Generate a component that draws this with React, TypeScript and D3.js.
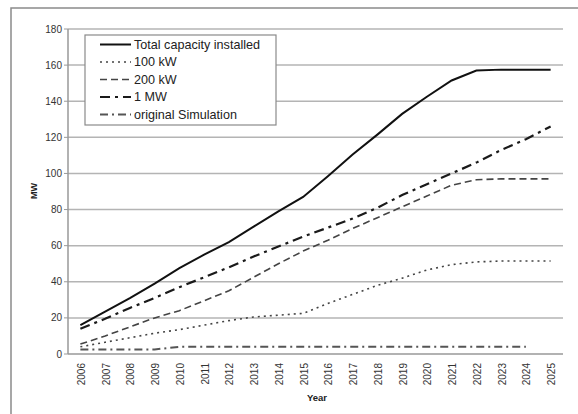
import React from "react";
import * as d3 from "d3";

const years = ["2006", "2007", "2008", "2009", "2010", "2011", "2012", "2013", "2014", "2015",
  "2016", "2017", "2018", "2019", "2020", "2021", "2022", "2023", "2024", "2025"];

const totalCapacity = [16, 23.5, 31, 39, 47.5, 55, 62, 70.5, 79, 87, 98.5, 110.5, 121.5, 133, 142.5, 151.5, 157, 157.5, 157.5, 157.5];
const kw100 = [4, 6.5, 9, 11.5, 13.5, 16, 18.5, 20.5, 21.5, 22.5, 28, 33, 38, 42, 46.5, 49.5, 51, 51.5, 51.5, 51.5];
const kw200 = [5.5, 10, 15, 20, 24, 29.5, 35, 42.5, 50, 57, 63, 69.5, 75.5, 81.5, 87.5, 93.5, 96.5, 97, 97, 97];
const mw1 = [14, 19.5, 25.5, 31, 37, 42.5, 48, 54, 59.5, 65, 70, 75, 81, 88, 94, 100, 106, 113, 119, 126];
const originalSim = [2.5, 2.5, 2.5, 2.5, 4, 4, 4, 4, 4, 4, 4, 4, 4, 4, 4, 4, 4, 4, 4];

const yTicks = [0, 20, 40, 60, 80, 100, 120, 140, 160, 180];

const series = [
  { name: "Total capacity installed", values: totalCapacity, color: "#111", width: 2, dash: "" },
  { name: "100 kW", values: kw100, color: "#444", width: 1.6, dash: "2,4" },
  { name: "200 kW", values: kw200, color: "#444", width: 1.6, dash: "7,4" },
  { name: "1 MW", values: mw1, color: "#1a1a1a", width: 2.2, dash: "10,5,3,5" },
  { name: "original Simulation", values: originalSim, color: "#555", width: 2, dash: "8,4,2,4" },
];

const font = "'Liberation Sans', Arial, sans-serif";

export default function App() {
  const width = 578;
  const height = 414;
  const left = 68, right = 563, top = 29, bottom = 354;

  const x = d3.scalePoint<string>().domain(years).range([left, right]).padding(0.5);
  const y = d3.scaleLinear().domain([0, 180]).range([bottom, top]);

  const line = d3.line<number>()
    .x((d, i) => x(years[i]) as number)
    .y(d => y(d));

  const legendX = 85, legendY = 35, legendRow = 17.5;

  return (
    <svg width={width} height={height} style={{ position: "fixed", left: 0, top: 0, background: "#fff" }}
      fontFamily={font}>
      <rect x={11} y={8} width={620} height={500} fill="#fff" stroke="#8a8a8a" strokeWidth={1.5} />

      {yTicks.map(t => (
        <g key={t}>
          {t > 0 && <line x1={left} x2={right} y1={y(t)} y2={y(t)} stroke="#b4b4b4" strokeWidth={1.5} />}
          <line x1={left - 4} x2={left} y1={y(t)} y2={y(t)} stroke="#999" strokeWidth={1} />
          <text x={left - 6} y={y(t)} dy="0.35em" textAnchor="end" fontSize={10} fill="#333">{t}</text>
        </g>
      ))}
      <line x1={left} x2={left} y1={top} y2={bottom} stroke="#999" strokeWidth={1.5} />
      <line x1={left} x2={right} y1={bottom} y2={bottom} stroke="#999" strokeWidth={1.5} />

      {years.map(yr => (
        <text key={yr} transform={`translate(${(x(yr) as number) + 1},${bottom + 9}) rotate(-90)`}
          dy="0.35em" textAnchor="end" fontSize={10} fill="#333">{yr}</text>
      ))}

      <text x={317} y={401} textAnchor="middle" fontSize={9.5} fontWeight="bold" fill="#222">Year</text>
      <text transform={`translate(34,191) rotate(-90)`} textAnchor="middle" dy="0.35em" fontSize={9}
        fontWeight="bold" fill="#222">MW</text>

      {series.map(s => (
        <path key={s.name} d={line(s.values) || ""} fill="none" stroke={s.color}
          strokeWidth={s.width} strokeDasharray={s.dash} />
      ))}

      <rect x={legendX} y={legendY} width={191} height={90} fill="#fff" stroke="#8a8a8a" strokeWidth={1.2} />
      {series.map((s, i) => {
        const ly = legendY + 9.5 + i * legendRow;
        return (
          <g key={s.name}>
            <line x1={100} x2={131} y1={ly} y2={ly} stroke={s.color} strokeWidth={s.width}
              strokeDasharray={s.dash} />
            <text x={134} y={ly} dy="0.35em" fontSize={12.6} fill="#222">{s.name}</text>
          </g>
        );
      })}
    </svg>
  );
}
